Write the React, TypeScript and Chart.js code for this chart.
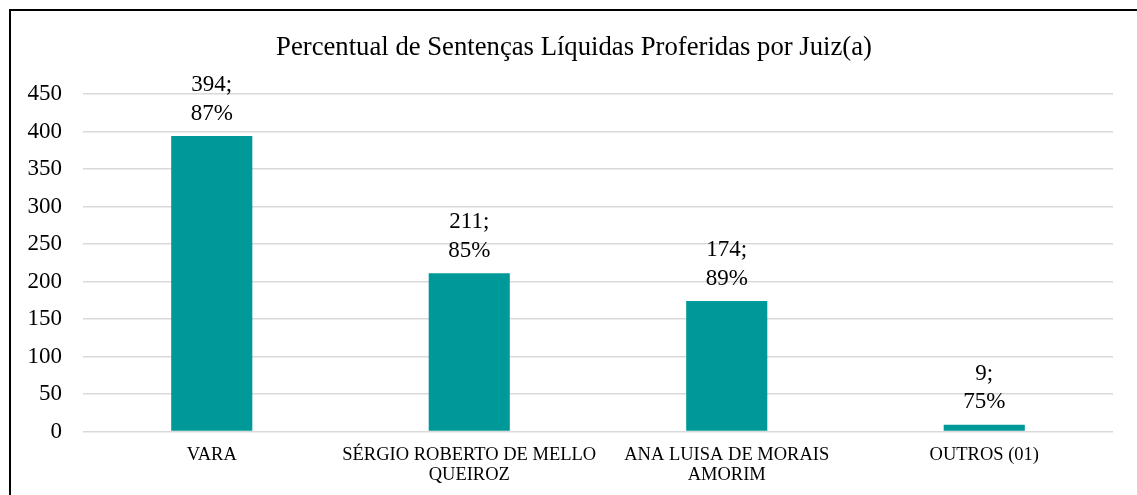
import React, { useEffect, useRef } from "react";
import { Chart, registerables } from "chart.js";

Chart.register(...registerables);

const categories: string[][] = [
  ["VARA"],
  ["SÉRGIO ROBERTO DE MELLO", "QUEIROZ"],
  ["ANA LUISA DE MORAIS", "AMORIM"],
  ["OUTROS (01)"],
];
const counts: number[] = [394, 211, 174, 9];
const percents: string[] = ["87%", "85%", "89%", "75%"];
const titleText = "Percentual de Sentenças Líquidas Proferidas por Juiz(a)";
const yMax = 450;
const yStep = 50;

const FONT = "'Liberation Serif', 'Times New Roman', serif";
const TEAL = "#009999";

const labelPlugin = {
  id: "barLabels",
  afterDatasetsDraw(chart: any) {
    const ctx = chart.ctx;
    const meta = chart.getDatasetMeta(0);
    ctx.save();
    ctx.font = `23px ${FONT}`;
    ctx.fillStyle = "#000";
    ctx.textAlign = "center";
    ctx.textBaseline = "middle";
    meta.data.forEach((bar: any, i: number) => {
      ctx.fillText(`${counts[i]};`, bar.x, bar.y - 51);
      ctx.fillText(percents[i], bar.x, bar.y - 22.5);
    });
    ctx.restore();
  },
};

export default function App() {
  const ref = useRef<HTMLCanvasElement | null>(null);
  useEffect(() => {
    if (!ref.current) return;
    const chart = new Chart(ref.current, {
      type: "bar",
      data: {
        labels: categories,
        datasets: [
          {
            data: counts,
            backgroundColor: TEAL,
            borderWidth: 0,
            barPercentage: 0.63,
            categoryPercentage: 0.5,
          },
        ],
      },
      options: {
        animation: false,
        responsive: false,
        maintainAspectRatio: false,
        layout: { padding: { left: 0, right: 0, top: 0, bottom: 0 } },
        plugins: {
          legend: { display: false },
          tooltip: { enabled: false },
          title: {
            display: true,
            text: titleText,
            color: "#000",
            font: { family: FONT, size: 26.7, weight: "normal", lineHeight: "31px" },
            padding: { top: 21, bottom: 31 },
          },
        },
        scales: {
          x: {
            grid: { display: false, drawTicks: false },
            border: { display: false },
            ticks: {
              color: "#000",
              font: { family: FONT, size: 18.5, lineHeight: "20px" },
              padding: 14,
              maxRotation: 0,
              autoSkip: false,
            },
            afterFit(scale: any) {
              scale.height = 63.5;
            },
          },
          y: {
            min: 0,
            max: yMax,
            grid: { color: "#d9d9d9", lineWidth: 1.5, drawTicks: false },
            border: { display: false },
            ticks: {
              stepSize: yStep,
              color: "#000",
              font: { family: FONT, size: 23 },
              padding: 21,
            },
            afterFit(scale: any) {
              scale.width = 72;
            },
          },
          gap: {
            type: "linear",
            position: "right",
            display: true,
            grid: { display: false, drawTicks: false },
            border: { display: false },
            ticks: { display: false },
            afterFit(scale: any) {
              scale.width = 24;
            },
          },
        },
      },
      plugins: [labelPlugin],
    });
    return () => chart.destroy();
  }, []);
  return (
    <div
      style={{
        position: "fixed",
        left: 9,
        top: 9,
        width: 1128,
        height: 486,
        borderTop: "2px solid #000",
        borderLeft: "2px solid #000",
        background: "#fff",
        boxSizing: "border-box",
      }}
    >
      <canvas ref={ref} width={1126} height={484} style={{ display: "block" }} />
    </div>
  );
}
